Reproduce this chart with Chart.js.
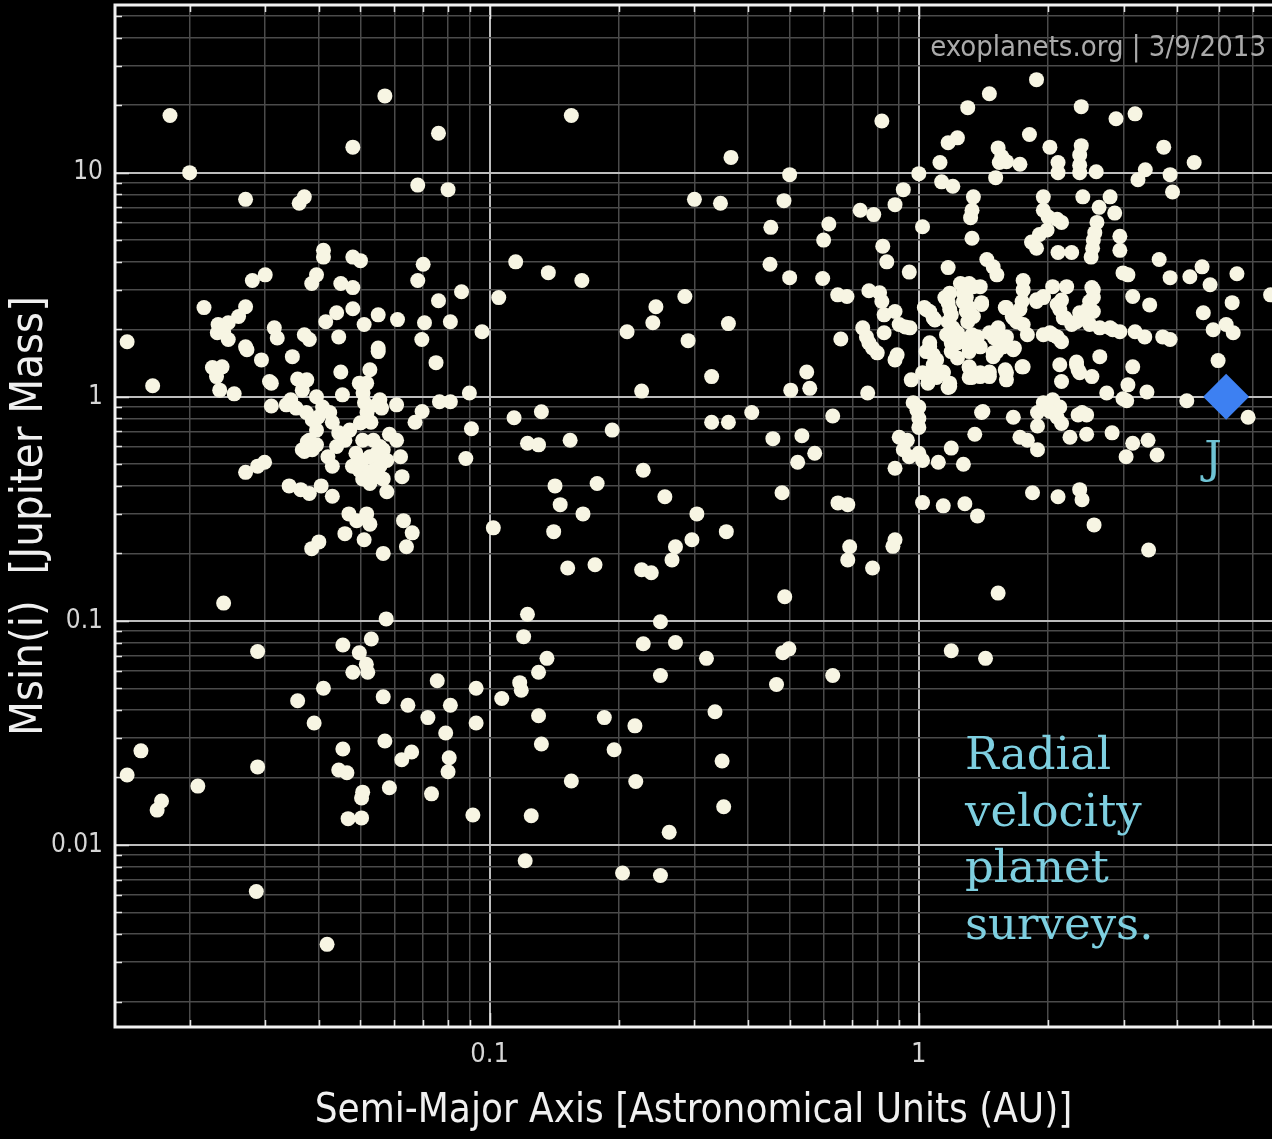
<!DOCTYPE html>
<html>
<head>
<meta charset="utf-8">
<title>Exoplanet mass vs semi-major axis</title>
<script src="https://cdn.jsdelivr.net/npm/chart.js@4/dist/chart.umd.min.js"></script>
<style>
  html, body { margin: 0; padding: 0; background: #000; }
  canvas { display: block; }
</style>
</head>
<body>
<canvas id="chart" width="1272" height="1139"></canvas>
<script>
// Each planet is [semi-major axis (AU), Msin(i) (Jupiter masses)].

// Giant planets inside 0.1 AU
const hotJupiters = [
  [0.018,18],[0.057,22],[0.048,13],[0.076,15],[0.020,10],[0.027,7.6],[0.036,7.3],[0.037,7.8],[0.068,8.8],[0.080,8.4],
  [0.041,4.5],[0.041,4.2],[0.048,4.2],[0.050,4.05],[0.070,3.9],[0.068,3.3],[0.0395,3.5],[0.0385,3.2],[0.030,3.5],[0.028,3.3],
  [0.045,3.2],[0.048,3.07],[0.086,2.94],[0.076,2.68],[0.0216,2.5],[0.027,2.52],[0.026,2.28],[0.0246,2.14],[0.0233,2.1],[0.0232,1.93],
  [0.024,1.95],[0.0246,1.8],[0.0315,2.03],[0.032,1.83],[0.037,1.89],[0.038,1.8],[0.0415,2.16],[0.044,2.37],[0.048,2.47],[0.0445,1.85],
  [0.051,2.1],[0.055,2.32],[0.055,1.65],[0.061,2.21],[0.0705,2.14],[0.0695,1.8],[0.081,2.16],[0.096,1.95],[0.0143,1.76],[0.027,1.67],
  [0.0164,1.12],[0.0226,1.35],[0.0238,1.36],[0.0231,1.23],[0.0235,1.07],[0.0254,1.03],[0.0272,1.62],[0.0294,1.46],[0.0307,1.17],[0.031,1.15],
  [0.0347,1.51],[0.031,0.91],[0.0357,1.2],[0.0375,1.19],[0.0366,1.07],[0.045,1.29],[0.055,1.59],[0.0526,1.32],[0.0517,1.15],[0.0507,1.04],
  [0.0511,0.94],[0.0518,0.85],[0.0529,0.77],[0.0454,1.02],[0.0344,0.97],[0.0354,0.89],[0.0374,0.85],[0.0395,1.0],[0.0408,0.9],[0.0398,0.81],
  [0.0424,0.85],[0.043,0.77],[0.0445,0.69],[0.046,0.64],[0.044,0.6],[0.042,0.54],[0.043,0.49],[0.038,0.64],[0.0366,0.58],
  [0.0472,0.71],[0.0488,0.56],[0.0506,0.52],[0.0526,0.54],[0.0546,0.56],[0.0565,0.58],[0.0479,0.49],[0.0497,0.47],[0.0516,0.46],[0.0536,0.47],
  [0.0555,0.49],[0.0576,0.52],[0.0506,0.43],[0.0526,0.41],[0.0546,0.44],[0.0565,0.43],[0.0506,0.64],[0.0536,0.64],[0.0555,0.60],
  [0.0584,0.68],[0.0607,0.64],[0.062,0.54],[0.0625,0.44],[0.0607,0.92],[0.056,0.89],[0.0696,0.86],[0.067,0.77],[0.075,1.42],[0.0764,0.95],
  [0.081,0.95],[0.0897,1.04],[0.0907,0.72],[0.088,0.53],[0.027,0.46],[0.0288,0.49],[0.0299,0.51],[0.0341,0.40],[0.0363,0.385],[0.038,0.37],
  [0.0405,0.40],[0.043,0.36],[0.0576,0.377],[0.047,0.30],[0.049,0.28],[0.0517,0.30],[0.0526,0.27],[0.046,0.245],[0.051,0.23],[0.0385,0.21],
  [0.040,0.225],[0.0565,0.20],[0.063,0.28],[0.066,0.247],[0.064,0.214],[0.024,0.12],[0.0574,0.102],
  [0.0336,0.92],[0.0386,0.79],[0.0395,0.71],[0.0376,0.63],[0.0395,0.61],[0.037,0.57],[0.0386,0.58],[0.0497,1.15],[0.0546,0.92],[0.0555,0.97],
  [0.050,0.765],[0.052,0.79]
];

// Neptune-mass and super-Earth planets inside 0.1 AU
const innerLowMass = [
  [0.0455,0.078],[0.053,0.083],[0.0497,0.072],[0.0516,0.064],[0.052,0.059],[0.048,0.059],[0.0755,0.054],[0.093,0.05],[0.041,0.05],[0.0288,0.073],
  [0.0357,0.044],[0.039,0.035],[0.0565,0.0458],[0.0645,0.042],[0.0718,0.037],[0.081,0.042],[0.093,0.035],[0.079,0.0316],
  [0.0154,0.0263],[0.0143,0.0205],[0.0209,0.0183],[0.0172,0.0157],[0.0168,0.0143],[0.0288,0.0223],[0.0455,0.0268],[0.0445,0.0216],[0.0465,0.021],[0.0506,0.0172],
  [0.0503,0.0162],[0.0468,0.0131],[0.0503,0.0132],[0.057,0.0291],[0.0624,0.024],[0.0658,0.026],[0.0584,0.018],[0.0805,0.0245],[0.080,0.0212],[0.0732,0.0169],
  [0.0914,0.0136],[0.0286,0.0062],[0.0418,0.0036]
];

// Planets between 0.1 and ~0.9 AU
const intermediate = [
  [0.155,18],[0.365,11.7],[0.50,9.8],[0.30,7.6],[0.345,7.3],[0.485,7.5],[0.73,6.8],[0.785,6.5],[0.452,5.7],[0.617,5.9],
  [0.60,5.0],[0.824,4.7],[0.842,4.0],[0.45,3.9],[0.50,3.4],[0.597,3.37],[0.647,2.85],[0.68,2.8],[0.765,2.97],[0.81,2.91],
  [0.82,2.66],[0.83,2.32],[0.83,1.93],[0.74,2.03],[0.755,1.85],[0.765,1.74],[0.78,1.65],[0.658,1.81],[0.115,4.0],[0.137,3.58],
  [0.164,3.3],[0.105,2.77],[0.285,2.8],[0.244,2.52],[0.24,2.14],[0.209,1.95],[0.36,2.12],[0.29,1.78],
  [0.80,1.57],[0.329,1.23],[0.226,1.06],[0.503,1.07],[0.548,1.29],[0.557,1.09],[0.76,1.04],[0.114,0.806],[0.132,0.857],[0.1225,0.62],
  [0.13,0.61],[0.154,0.64],[0.193,0.71],[0.329,0.77],[0.36,0.77],[0.408,0.85],[0.457,0.65],[0.534,0.67],[0.572,0.56],[0.522,0.51],
  [0.63,0.82],[0.228,0.47],[0.142,0.40],[0.146,0.33],[0.165,0.30],[0.141,0.25],[0.178,0.41],[0.256,0.358],[0.304,0.30],[0.356,0.25],
  [0.296,0.23],[0.271,0.214],[0.266,0.187],[0.48,0.373],[0.648,0.336],[0.683,0.33],[0.69,0.214],[0.683,0.187],[0.78,0.172],[0.88,0.23],
  [0.87,0.215],[0.152,0.172],[0.176,0.178],[0.226,0.169],[0.238,0.164],[0.487,0.128],[0.1225,0.107],[0.12,0.085],[0.136,0.068],[0.13,0.059],
  [0.1175,0.053],[0.1185,0.049],[0.1067,0.045],[0.25,0.099],[0.228,0.079],[0.271,0.080],[0.32,0.068],[0.25,0.057],[0.482,0.072],[0.498,0.075],
  [0.466,0.052],[0.63,0.057],[0.102,0.26],
  [0.13,0.0377],[0.132,0.0282],[0.185,0.037],[0.218,0.034],[0.195,0.0266],[0.155,0.0193],[0.219,0.0192],[0.125,0.0135],[0.262,0.0114],[0.121,0.0085],
  [0.204,0.0075],[0.25,0.0073],[0.335,0.0393],[0.348,0.0237],[0.351,0.0148]
];

// Planets beyond ~0.85 AU
const outerGiants = [
  [0.82,17],[1.88,26],[1.46,22.5],[1.30,19.5],[2.39,19.7],[2.88,17.4],[3.19,18.3],[1.81,14.8],[1.17,13.6],[1.23,14.3],
  [1.53,12.9],[2.02,13.0],[2.39,13.2],[3.72,13.0],[1.12,11.1],[1.56,11.8],[1.54,11.1],[1.60,11.2],[1.72,10.9],[2.11,11.1],
  [2.11,10.0],[2.37,12.0],[2.37,10.8],[2.37,10.0],[2.59,10.1],[4.38,11.1],[3.24,9.3],[3.37,10.3],[3.85,9.8],[3.9,8.2],
  [1.0,9.9],[1.13,9.1],[1.2,8.7],[0.92,8.4],[0.88,7.2],[1.51,9.5],[1.34,7.8],[1.33,6.8],[1.32,6.3],[1.02,5.74],[1.33,5.1],
  [1.95,7.8],[1.95,6.8],[2.0,6.35],[2.1,6.2],[2.15,6.0],[1.99,5.55],[1.91,5.3],[1.83,4.9],[1.88,4.6],[2.41,7.8],
  [2.79,7.8],[2.86,6.6],[2.63,7.0],[2.6,6.0],[2.57,5.4],[2.55,5.0],[2.54,4.6],[2.52,4.2],[2.94,5.2],[2.94,4.5],
  [2.11,4.4],[2.27,4.4],[3.63,4.1],[1.17,3.77],[0.95,3.6],[1.44,4.1],[1.49,3.8],[1.52,3.5],[3.85,3.4],[4.28,3.43],
  [4.57,3.8],[4.77,3.16],[5.51,3.54],[5.37,2.63],[4.6,2.37],[4.85,1.99],[5.2,2.1],[5.4,1.93],[6.6,2.85],[3.07,3.5],
  [3.15,2.8],[3.45,2.57],
  [1.75,3.3],[1.75,3.0],[1.74,2.66],[1.72,2.45],[1.88,2.66],[1.95,2.8],[2.05,3.1],[2.21,3.1],[2.15,2.7],[2.13,2.45],
  [2.19,2.25],[2.55,3.0],[2.5,2.66],[2.47,2.45],[2.46,2.2],[2.37,2.37],[2.33,2.16],[2.64,2.03],[2.83,1.99],[3.19,1.95],
  [3.36,1.85],[3.7,1.85],[3.85,1.8],[1.6,2.5],[1.65,2.28],[1.69,2.16],[1.53,2.03],[1.46,1.93],[1.5,1.83],[2.02,1.93],
  [2.1,1.85],[1.25,3.2],[1.31,3.2],[1.39,3.1],[1.27,2.9],[1.27,2.65],[1.29,2.4],[1.34,2.28],[1.18,2.9],[1.17,2.63],
  [1.19,2.32],[1.40,2.63],[1.06,2.4],[1.03,2.5],[1.09,2.2],[0.93,2.05],[1.06,1.74],[1.23,1.93],[1.19,1.74],[1.28,1.8],
  [1.34,1.71],[1.37,1.85],
  [2.53,3.07],[2.55,2.77],[2.99,3.57],[1.27,3.16],[1.34,3.10],[1.29,2.77],[1.31,2.50],[1.04,2.45],[1.08,2.25],[1.15,2.77],
  [1.18,2.45],[1.17,2.16],[1.20,2.03],[1.16,1.89],[1.23,1.76],[1.19,1.59],[1.23,1.49],[1.30,2.16],[1.33,1.89],[1.36,1.74],
  [1.31,1.59],[1.40,2.58],[1.59,2.50],[1.66,2.25],[1.75,2.10],[1.79,1.89],[1.54,1.80],[1.60,1.85],[1.52,1.59],[1.49,1.51],
  [1.67,1.65],[1.88,2.71],[1.95,2.77],[2.10,2.58],[2.17,2.25],[2.27,2.10],[1.95,1.89],[2.05,1.89],[2.15,1.76],[2.41,2.32],
  [2.50,2.10],[2.55,2.40],[2.79,2.03],[2.94,1.95],[2.33,1.43],[2.35,1.32],[2.99,0.98],[1.74,1.36],[1.59,1.32],[1.60,1.19],
  [1.31,1.35],[1.33,1.22],[1.39,1.23],[1.46,1.23],[1.18,1.11],[1.08,1.39],[1.05,1.25],[1.10,1.22],[1.14,1.29],[0.90,2.10],
  [0.953,2.03],[1.04,1.59],[1.08,1.54],[0.88,2.40],[1.41,0.86],[1.99,0.90],[2.40,0.85],
  [4.98,1.45],[4.21,0.96],[5.85,0.81],[3.4,1.05],[3.07,1.13],[3.05,0.96],[3.15,1.36],[2.74,1.04],[2.64,1.51],[2.53,1.23],
  [2.13,1.39],[2.15,1.17],[2.33,1.39],[2.37,1.28],[1.95,0.94],[2.05,0.97],[2.13,0.90],[2.02,0.86],[2.1,0.81],[2.15,0.76],
  [2.25,0.66],[1.89,0.85],[2.35,0.83],[2.46,0.83],[2.46,0.68],[2.82,0.69],[3.15,0.62],[3.42,0.64],[3.04,0.54],[3.59,0.55],
  [1.89,0.74],[1.72,0.66],[1.79,0.64],[1.89,0.58],[1.66,0.81],[1.40,0.85],[1.35,0.68],[1.19,0.59],[1.27,0.50],[1.11,0.51],
  [0.88,0.48],[0.97,0.94],[1.0,0.90],[1.0,0.80],[1.0,0.73],[0.99,0.87],[0.90,0.66],[0.94,0.64],[0.92,0.58],[0.95,0.54],
  [1.0,0.56],[1.02,0.52],[0.96,1.19],[0.88,1.46],[0.89,1.54],[1.06,1.67],[1.10,1.46],[1.14,1.28],[1.18,1.15],[1.02,1.28],
  [1.05,1.15],[1.17,1.10],[1.23,1.74],[1.29,1.74],[1.39,1.67],[1.49,1.57],[1.57,1.67],[1.66,1.62],[1.31,1.36],[1.39,1.28],
  [1.46,1.29],[1.31,1.22],[1.60,1.28],[1.75,1.36],
  [1.02,0.337],[1.14,0.326],[1.28,0.333],[1.37,0.294],[1.84,0.373],[2.11,0.358],[2.37,0.385],[2.4,0.347],[2.56,0.268],[3.43,0.207],
  [1.53,0.133],[1.19,0.0735],[1.43,0.068]
];

// Jupiter, for reference
const jupiter = [[5.2, 1.0]];

// Axis ranges and the tick values that carry labels
const xRange = [0.0134, 6.65];
const yRange = [0.00154, 56];
const xTickLabels = [0.1, 1];
const yTickLabels = [0.01, 0.1, 1, 10];

const toPoints = rows => rows.map(([a, m]) => ({ x: a, y: m }));
const planets = [...hotJupiters, ...innerLowMass, ...intermediate, ...outerGiants];

// Grid ticks at 1..9 x each power of ten within the range
function logGrid(min, max) {
  const out = [];
  for (let e = Math.floor(Math.log10(min)); e <= Math.ceil(Math.log10(max)); e++) {
    for (let k = 1; k <= 9; k++) {
      const v = Number((k * Math.pow(10, e)).toPrecision(3));
      if (v >= min && v <= max) out.push(v);
    }
  }
  return out;
}
const isDecade = v => Math.abs(Math.log10(v) - Math.round(Math.log10(v))) < 1e-9;

const SANS = '"DejaVu Sans Condensed", "DejaVu Sans", sans-serif';
const SERIF = '"DejaVu Serif", "Liberation Serif", serif';

// Plot frame plus the short inward tick marks on each edge
const frameTicks = {
  id: 'frameTicks',
  beforeDatasetsDraw(chart) {
    const { ctx, chartArea: a, scales: { x, y } } = chart;
    ctx.save();
    ctx.strokeStyle = '#e6e6e6';
    ctx.lineWidth = 1.5;
    ctx.beginPath();
    x.ticks.forEach(t => {
      const px = Math.round(x.getPixelForValue(t.value)) + 0.5;
      const len = isDecade(t.value) ? 14 : 7;
      ctx.moveTo(px, a.bottom); ctx.lineTo(px, a.bottom - len);
      ctx.moveTo(px, a.top); ctx.lineTo(px, a.top + len);
    });
    y.ticks.forEach(t => {
      const py = Math.round(y.getPixelForValue(t.value)) + 0.5;
      const len = isDecade(t.value) ? 14 : 7;
      ctx.moveTo(a.left, py); ctx.lineTo(a.left + len, py);
    });
    ctx.stroke();
    ctx.strokeStyle = '#f2f2f2';
    ctx.lineWidth = 3;
    ctx.beginPath();
    ctx.moveTo(a.right + 4, a.top);
    ctx.lineTo(a.left, a.top);
    ctx.lineTo(a.left, a.bottom);
    ctx.lineTo(a.right + 4, a.bottom);
    ctx.stroke();
    ctx.restore();
  }
};

// Credit line, survey note and the Jupiter marker label
const annotations = {
  id: 'annotations',
  afterDatasetsDraw(chart) {
    const { ctx, scales: { x, y } } = chart;
    ctx.save();
    ctx.textBaseline = 'alphabetic';

    ctx.fillStyle = '#aaaaaa';
    ctx.font = '29px ' + SANS;
    ctx.textAlign = 'right';
    ctx.fillText('exoplanets.org | 3/9/2013', 1266, 56);

    ctx.fillStyle = '#7ecfe0';
    ctx.font = '45px ' + SERIF;
    ctx.textAlign = 'left';
    ['Radial', 'velocity', 'planet', 'surveys.'].forEach((line, i) => {
      ctx.fillText(line, 965, 769 + i * 56.5);
    });

    const jx = x.getPixelForValue(jupiter[0][0]);
    const jy = y.getPixelForValue(jupiter[0][1]);
    ctx.fillStyle = '#6fc3d4';
    ctx.font = '44px ' + SERIF;
    ctx.textAlign = 'center';
    ctx.fillText('J', jx - 13, jy + 76);
    ctx.restore();
  }
};

const gridColor = ctx => (ctx.tick && isDecade(ctx.tick.value)) ? '#bdbdbd' : '#4b4b4b';
const gridWidth = ctx => (ctx.tick && isDecade(ctx.tick.value)) ? 2 : 1.5;

new Chart(document.getElementById('chart'), {
  type: 'scatter',
  data: {
    datasets: [
      {
        label: 'Jupiter',
        data: toPoints(jupiter),
        pointStyle: 'rectRot',
        pointRadius: 23,
        backgroundColor: '#3d80f2',
        borderWidth: 0
      },
      {
        label: 'Radial velocity planets',
        data: toPoints(planets),
        pointStyle: 'circle',
        pointRadius: 7.5,
        backgroundColor: '#f7f5e3',
        borderWidth: 0
      }
    ]
  },
  options: {
    responsive: false,
    animation: false,
    events: [],
    layout: { autoPadding: false, padding: { top: 5, left: 0, right: 0, bottom: 0 } },
    plugins: { legend: { display: false }, tooltip: { enabled: false } },
    scales: {
      x: {
        type: 'logarithmic',
        min: xRange[0],
        max: xRange[1],
        afterBuildTicks: s => { s.ticks = logGrid(xRange[0], xRange[1]).map(v => ({ value: v, major: isDecade(v) })); },
        afterFit: s => { s.height = 112; s.paddingLeft = 0; s.paddingRight = 0; },
        border: { display: false },
        grid: { color: gridColor, lineWidth: gridWidth, drawTicks: false },
        ticks: {
          autoSkip: false,
          maxRotation: 0,
          padding: 12,
          color: '#d6d6d6',
          font: { family: SANS, size: 27 },
          callback: v => xTickLabels.includes(v) ? String(v) : ''
        },
        title: {
          display: true,
          text: 'Semi-Major Axis [Astronomical Units (AU)]',
          color: '#f0f0f0',
          font: { family: SANS, size: 40 },
          padding: { top: 0, bottom: 3 }
        }
      },
      y: {
        type: 'logarithmic',
        min: yRange[0],
        max: yRange[1],
        afterBuildTicks: s => { s.ticks = logGrid(yRange[0], yRange[1]).map(v => ({ value: v, major: isDecade(v) })); },
        afterFit: s => { s.width = 115; s.paddingTop = 0; s.paddingBottom = 0; },
        border: { display: false },
        grid: { color: gridColor, lineWidth: gridWidth, drawTicks: false },
        ticks: {
          autoSkip: false,
          padding: 12,
          color: '#d6d6d6',
          font: { family: SANS, size: 26 },
          callback: v => yTickLabels.includes(v) ? String(v) : ''
        },
        title: {
          display: true,
          text: 'Msin(i)  [Jupiter Mass]',
          color: '#f0f0f0',
          font: { family: SANS, size: 45 },
          padding: { top: 3, bottom: 0 }
        }
      }
    }
  },
  plugins: [frameTicks, annotations]
});
</script>
</body>
</html>
